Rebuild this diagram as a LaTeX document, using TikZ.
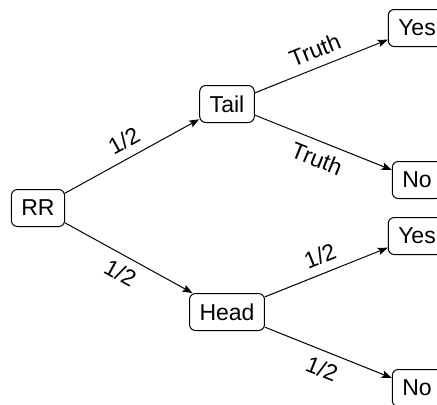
\documentclass[tikz,border=0pt]{standalone}
\usepackage{fontspec}
\setmainfont{Liberation Sans}
\usepackage{tikz}
\usetikzlibrary{arrows.meta,positioning}

\begin{document}
\begin{tikzpicture}[
    node distance=1cm, on grid,
    font=\fontsize{11.5}{13}\selectfont,
    box/.style={rectangle, draw, rounded corners=3pt, line width=0.5pt, inner xsep=5pt, minimum height=18.5pt},
    arrow/.style={-{Stealth[length=5pt,width=3.8pt,inset=1pt]}, line width=0.5pt},
    lbl/.style={sloped, inner sep=4.2pt}
]
    \useasboundingbox (-19pt,-98pt) rectangle (199.5pt,104pt);
    \node[box] (rr) {RR};
    \node[box, above right=52pt and 94.5pt of rr] (tail) {Tail};
    \node[box, below right=52pt and 94.5pt of rr] (head) {Head};
    \node[box, above right=38pt and 95pt of tail] (tyes) {Yes};
    \node[box, below right=38pt and 95pt of tail] (tno) {No};
    \node[box, above right=38pt and 95pt of head] (hyes) {Yes};
    \node[box, below right=38pt and 95pt of head] (hno) {No};

    \draw[arrow] (rr) -- node[lbl, above] {1/2} (tail);
    \draw[arrow] (rr) -- node[lbl, below] {1/2} (head);
    \draw[arrow] (tail) -- node[lbl, above] {Truth} (tyes);
    \draw[arrow] (tail) -- node[lbl, below] {Truth} (tno);
    \draw[arrow] (head) -- node[lbl, above] {1/2} (hyes);
    \draw[arrow] (head) -- node[lbl, below] {1/2} (hno);
\end{tikzpicture}
\end{document}
